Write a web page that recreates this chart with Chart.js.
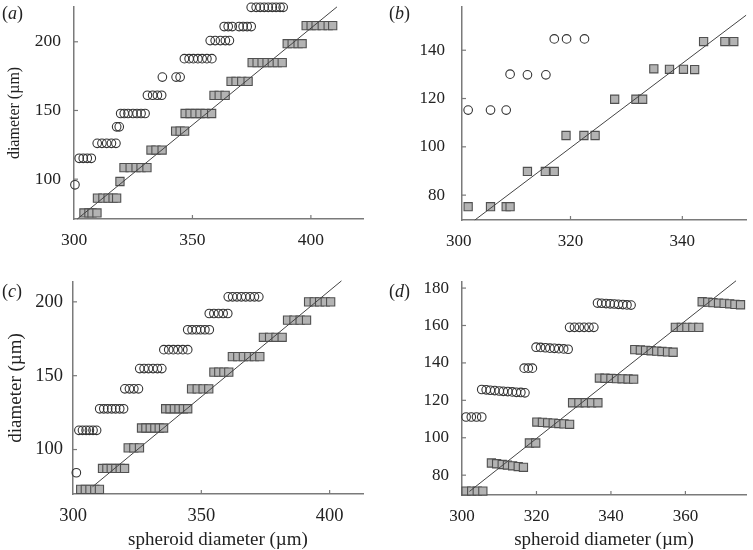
<!DOCTYPE html>
<html>
<head>
<meta charset="utf-8">
<script src="https://cdn.jsdelivr.net/npm/chart.js@4.4.1/dist/chart.umd.min.js"></script>
<style>
  body { margin: 0; background: #fff; width: 753px; height: 550px; position: relative; overflow: hidden; font-family: 'Liberation Serif', serif; }
  canvas { position: absolute; }
  .lab { position: absolute; font-size: 18px; line-height: 20px; color: #222; }
</style>
</head>
<body>
<canvas id="pa" width="376" height="275" style="left:0;top:0"></canvas>
<canvas id="pb" width="377" height="275" style="left:376px;top:0"></canvas>
<canvas id="pc" width="376" height="275" style="left:0;top:275px"></canvas>
<canvas id="pd" width="377" height="275" style="left:376px;top:275px"></canvas>
<div class="lab" style="left:2px;top:3px">(<i>a</i>)</div>
<div class="lab" style="left:389px;top:3px">(<i>b</i>)</div>
<div class="lab" style="left:2px;top:281px">(<i>c</i>)</div>
<div class="lab" style="left:389px;top:281px">(<i>d</i>)</div>
<script>
// ---- panel (a) ----
var a_open_x = [300.4, 302.2, 303.9, 305.6, 307.3, 309.8, 311.8, 313.8, 315.8, 317.7, 318.0, 319.1,
  319.7, 321.2, 322.8, 324.9, 326.6, 328.3, 330.0, 331.0, 333.2, 335.2, 337.0, 337.3, 343.1, 344.8,
  346.6, 348.6, 350.4, 352.3, 354.1, 356.1, 358.2, 357.5, 359.6, 361.8, 363.9, 365.6,
  363.4, 365.1, 366.8, 369.7, 371.4, 373.1, 374.8, 374.8, 376.9, 378.6, 380.3, 382.0, 383.7, 385.3, 387.0, 388.3];
var a_open_y = [95.9, 115.2, 115.2, 115.2, 115.2, 126.1, 126.1, 126.1, 126.1, 126.1, 138.1, 138.1,
  147.8, 147.8, 147.8, 147.8, 147.8, 147.8, 147.8, 161.1, 161.1, 161.1, 161.1, 174.3, 174.3, 174.3,
  187.7, 187.7, 187.7, 187.7, 187.7, 187.7, 187.7, 200.9, 200.9, 200.9, 200.9, 200.9,
  211.1, 211.1, 211.1, 211.1, 211.1, 211.1, 211.1, 225.1, 225.1, 225.1, 225.1, 225.1, 225.1, 225.1, 225.1, 225.1];
var a_fill_x = [304.2, 306.3, 307.6, 309.7, 309.9, 312.2, 314.4, 316.5, 318.0, 319.4, 321.1, 323.7, 326.2, 328.3, 330.8,
  332.5, 334.6, 337.2, 342.9, 344.8, 346.7, 346.9, 349.0, 351.1, 353.2, 355.3, 358.1, 359.1, 361.3, 363.8,
  366.3, 368.4, 370.8, 373.5, 375.2, 377.3, 379.4, 381.5, 383.7, 385.8, 387.9, 390.0, 392.1, 394.6, 396.3,
  398.0, 400.1, 402.2, 404.8, 407.3, 409.2];
var a_fill_y = [75.4, 75.4, 75.4, 75.4, 86.2, 86.2, 86.2, 86.2, 86.2, 98.3, 108.4, 108.4, 108.4, 108.4, 108.4,
  121.2, 121.2, 121.2, 135.0, 135.0, 135.0, 147.8, 147.8, 147.8, 147.8, 147.8, 147.8, 161.0, 161.0, 161.0,
  171.2, 171.2, 171.2, 171.2, 184.8, 184.8, 184.8, 184.8, 184.8, 184.8, 184.8, 198.6, 198.6, 198.6, 198.6,
  211.8, 211.8, 211.8, 211.8, 211.8, 211.8];
var a_fit_x = [301.4, 411.0];
var a_fit_y = [71.0, 225.4];
var a_xticks = [300, 350, 400];
var a_yticks = [100, 150, 200];

// ---- panel (b) ----
var b_open_x = [301.7, 305.7, 308.5, 309.2, 312.3, 315.6, 317.1, 319.3, 322.5];
var b_open_y = [115.2, 115.2, 115.2, 130.1, 129.8, 129.8, 144.7, 144.7, 144.7];
var b_fill_x = [301.7, 305.7, 308.5, 309.2, 312.3, 315.5, 317.1, 319.2, 322.4, 324.4, 327.9, 331.7, 332.9,
  334.9, 337.7, 340.2, 342.2, 343.8, 347.6, 349.2];
var b_fill_y = [75.2, 75.2, 75.2, 75.2, 89.8, 89.8, 89.8, 104.7, 104.7, 104.7, 119.7, 119.7, 119.7,
  132.3, 132.1, 132.1, 132.0, 143.6, 143.6, 143.6];
var b_fit_x = [302.9, 351.4];
var b_fit_y = [69.7, 154.5];
var b_xticks = [300, 320, 340];
var b_yticks = [80, 100, 120, 140];

// ---- panel (c) ----
var c_open_x = [301.3, 302.3, 303.7, 305.1, 306.4, 307.8, 309.2, 310.4, 312.0, 313.5, 315.1, 316.6, 318.2, 319.7,
  320.2, 322.0, 323.7, 325.5, 326.0, 327.7, 329.4, 331.2, 332.9, 334.6, 335.4, 337.3, 339.1, 340.9, 342.8, 344.7,
  344.7, 346.4, 348.1, 349.7, 351.4, 353.1, 353.1, 354.9, 356.7, 358.5, 360.3,
  360.5, 362.2, 363.9, 365.6, 367.3, 369.0, 370.7, 372.4];
var c_open_y = [84.3, 113.0, 113.0, 113.0, 113.0, 113.0, 113.0, 127.6, 127.6, 127.6, 127.6, 127.6, 127.6, 127.6,
  141.1, 141.1, 141.1, 141.1, 154.8, 154.8, 154.8, 154.8, 154.8, 154.8, 167.6, 167.6, 167.6, 167.6, 167.6, 167.6,
  181.1, 181.1, 181.1, 181.1, 181.1, 181.1, 192.1, 192.1, 192.1, 192.1, 192.1,
  203.4, 203.4, 203.4, 203.4, 203.4, 203.4, 203.4, 203.4];
var c_fill_x = [303.0, 304.8, 306.6, 308.5, 310.3, 311.5, 313.2, 314.9, 316.7, 318.4, 320.1, 321.5, 323.7, 325.9,
  326.7, 328.4, 330.1, 331.9, 333.6, 335.3, 336.1, 337.8, 339.5, 341.3, 343.0, 344.7, 346.2, 348.4, 350.7, 352.9,
  354.9, 356.8, 358.8, 360.7, 362.1, 364.2, 366.4, 368.5, 370.7, 372.8, 374.2, 376.6, 379.1, 381.5,
  383.6, 386.1, 388.5, 391.0, 391.8, 394.0, 396.1, 398.3, 400.4];
var c_fill_y = [73.0, 73.0, 73.0, 73.0, 73.0, 87.2, 87.2, 87.2, 87.2, 87.2, 87.2, 101.1, 101.1, 101.1,
  114.6, 114.6, 114.6, 114.6, 114.6, 114.6, 127.6, 127.6, 127.6, 127.6, 127.6, 127.6, 141.1, 141.1, 141.1, 141.1,
  152.4, 152.4, 152.4, 152.4, 162.9, 162.9, 162.9, 162.9, 162.9, 162.9, 176.0, 176.0, 176.0, 176.0,
  187.6, 187.6, 187.6, 187.6, 200.0, 200.0, 200.0, 200.0, 200.0];
var c_fit_x = [307.6, 404.6];
var c_fit_y = [74.8, 214.2];
var c_xticks = [300, 350, 400];
var c_yticks = [100, 150, 200];

// ---- panel (d) ----
var d_open_x = [301.1, 302.5, 303.9, 305.3,
  305.3, 306.5, 307.6, 308.8, 310.0, 311.1, 312.3, 313.5, 314.6, 315.8, 316.9,
  316.7, 317.8, 318.9,
  319.9, 321.1, 322.4, 323.6, 324.8, 326.0, 327.3, 328.5,
  328.9, 330.2, 331.5, 332.8, 334.1, 335.4,
  336.4, 337.5, 338.7, 339.8, 340.9, 342.0, 343.2, 344.3, 345.4];
var d_open_y = [111.1, 111.1, 111.1, 111.1,
  125.8, 125.6, 125.4, 125.2, 125.0, 124.8, 124.7, 124.5, 124.3, 124.2, 124.0,
  137.2, 137.2, 137.2,
  148.4, 148.3, 148.1, 147.9, 147.8, 147.6, 147.5, 147.3,
  159.0, 159.0, 159.0, 159.0, 159.0, 159.0,
  172.0, 171.9, 171.7, 171.6, 171.5, 171.3, 171.2, 171.0, 170.9];
var d_fill_x = [301.1, 302.6, 304.1, 305.6,
  307.9, 309.3, 310.8, 312.2, 313.6, 315.1, 316.5,
  318.1, 319.8,
  320.1, 321.6, 323.0, 324.5, 326.0, 327.4, 328.9,
  329.7, 331.4, 333.1, 334.8, 336.5,
  336.9, 338.4, 340.0, 341.5, 343.0, 344.6, 346.1,
  346.4, 347.9, 349.3, 350.8, 352.3, 353.7, 355.2, 356.7,
  357.3, 358.9, 360.4, 362.0, 363.6,
  364.5, 366.0, 367.4, 368.9, 370.4, 371.9, 373.3, 374.8];
var d_fill_y = [71.5, 71.5, 71.5, 71.5,
  86.5, 86.1, 85.7, 85.4, 85.0, 84.6, 84.2,
  97.2, 97.2,
  108.4, 108.2, 108.0, 107.8, 107.6, 107.4, 107.2,
  118.7, 118.7, 118.7, 118.7, 118.7,
  131.9, 131.8, 131.7, 131.6, 131.5, 131.4, 131.3,
  147.1, 146.9, 146.7, 146.5, 146.3, 146.1, 145.9, 145.7,
  159.0, 159.0, 159.0, 159.0, 159.0,
  172.7, 172.5, 172.2, 172.0, 171.8, 171.6, 171.3, 171.1];
var d_fit_x = [302.0, 373.6];
var d_fit_y = [71.3, 183.9];
var d_xticks = [300, 320, 340, 360];
var d_yticks = [80, 100, 120, 140, 160, 180];

var AXIS = '#7a7a7a';
var TEXT = '#222';

function pts(xs, ys) {
  return xs.map(function (x, i) { return { x: x, y: ys[i] }; });
}

// small inward tick marks like the original figure
var inTicks = {
  id: 'inTicks',
  afterDraw: function (chart) {
    var ctx = chart.ctx, ca = chart.chartArea, sx = chart.scales.x, sy = chart.scales.y;
    ctx.save();
    ctx.strokeStyle = AXIS;
    ctx.lineWidth = 1.2;
    sx.ticks.forEach(function (t) {
      var p = sx.getPixelForValue(t.value);
      if (p < ca.left + 2 || p > ca.right) return;
      ctx.beginPath(); ctx.moveTo(p, ca.bottom); ctx.lineTo(p, ca.bottom - 4); ctx.stroke();
    });
    sy.ticks.forEach(function (t) {
      var p = sy.getPixelForValue(t.value);
      if (p > ca.bottom - 2 || p < ca.top) return;
      ctx.beginPath(); ctx.moveTo(ca.left, p); ctx.lineTo(ca.left + 4, p); ctx.stroke();
    });
    ctx.restore();
  }
};

function panel(id, o) {
  var W = document.getElementById(id).width, H = document.getElementById(id).height;
  new Chart(document.getElementById(id), {
    type: 'scatter',
    data: {
      datasets: [
        { type: 'line', data: pts(o.fitX, o.fitY), borderColor: '#444', borderWidth: 1,
          pointRadius: 0, showLine: true, fill: false, clip: false },
        { data: pts(o.fillX, o.fillY), pointStyle: 'rect', pointRadius: 5.8,
          backgroundColor: '#b3b3b3', borderColor: '#505050', borderWidth: 1.1, clip: false },
        { data: pts(o.openX, o.openY), pointStyle: 'circle', pointRadius: 4.3,
          backgroundColor: 'rgba(255,255,255,0)', borderColor: '#333', borderWidth: 1.1, clip: false }
      ]
    },
    options: {
      responsive: false,
      animation: false,
      events: [],
      layout: { padding: { left: 0, top: o.area.t, right: W - o.area.r, bottom: 0 } },
      plugins: { legend: { display: false }, tooltip: { enabled: false } },
      scales: {
        x: {
          type: 'linear', min: o.xr[0], max: o.xr[1],
          grid: { display: false, drawTicks: false },
          border: { display: true, color: AXIS, width: 1.5 },
          ticks: { autoSkip: false, color: TEXT, padding: 11,
            font: { family: 'Liberation Serif', size: o.fs } },
          title: { display: !!o.xtitle, text: o.xtitle || '', color: TEXT, padding: 0,
            font: { family: 'Liberation Serif', size: 19, lineHeight: 1.05 } },
          afterBuildTicks: function (s) { s.ticks = o.xt.map(function (v) { return { value: v }; }); },
          afterFit: function (s) { s.height = H - o.area.b; s.paddingLeft = 0; s.paddingRight = 0; }
        },
        y: {
          type: 'linear', min: o.yr[0], max: o.yr[1],
          grid: { display: false, drawTicks: false },
          border: { display: true, color: AXIS, width: 1.5 },
          ticks: { autoSkip: false, color: TEXT, padding: o.ypad,
            font: { family: 'Liberation Serif', size: o.fs } },
          title: { display: !!o.ytitle, text: o.ytitle || '', color: TEXT, padding: { top: 5, bottom: 0 },
            font: { family: 'Liberation Serif', size: o.ytfs || 18 } },
          afterBuildTicks: function (s) { s.ticks = o.yt.map(function (v) { return { value: v }; }); },
          afterFit: function (s) { s.width = o.area.l; s.paddingTop = 0; s.paddingBottom = 0; }
        }
      }
    },
    plugins: [inTicks]
  });
}

panel('pa', { openX: a_open_x, openY: a_open_y, fillX: a_fill_x, fillY: a_fill_y, fitX: a_fit_x, fitY: a_fit_y,
  xr: [300, 422], yr: [71, 225.4], xt: a_xticks, yt: a_yticks, fs: 17.5, ypad: 13,
  area: { l: 74, r: 363, t: 6, b: 219 }, ytitle: 'diameter (µm)', ytfs: 16 });

panel('pb', { openX: b_open_x, openY: b_open_y, fillX: b_fill_x, fillY: b_fill_y, fitX: b_fit_x, fitY: b_fit_y,
  xr: [300.6, 351.4], yr: [69.7, 157.9], xt: b_xticks, yt: b_yticks, fs: 17, ypad: 17,
  area: { l: 86, r: 376, t: 7, b: 220 } });

panel('pc', { openX: c_open_x, openY: c_open_y, fillX: c_fill_x, fillY: c_fill_y, fitX: c_fit_x, fitY: c_fit_y,
  xr: [300, 413], yr: [69.9, 213.5], xt: c_xticks, yt: c_yticks, fs: 18.5, ypad: 10,
  area: { l: 73, r: 363, t: 6, b: 219 }, ytitle: 'diameter (µm)', ytfs: 19, xtitle: 'spheroid diameter (µm)' });

panel('pd', { openX: d_open_x, openY: d_open_y, fillX: d_fill_x, fillY: d_fill_y, fitX: d_fit_x, fitY: d_fit_y,
  xr: [300, 376.3], yr: [69.4, 183.3], xt: d_xticks, yt: d_yticks, fs: 17, ypad: 13,
  area: { l: 86, r: 372, t: 6, b: 220 }, xtitle: 'spheroid diameter (µm)' });
</script>
</body>
</html>
